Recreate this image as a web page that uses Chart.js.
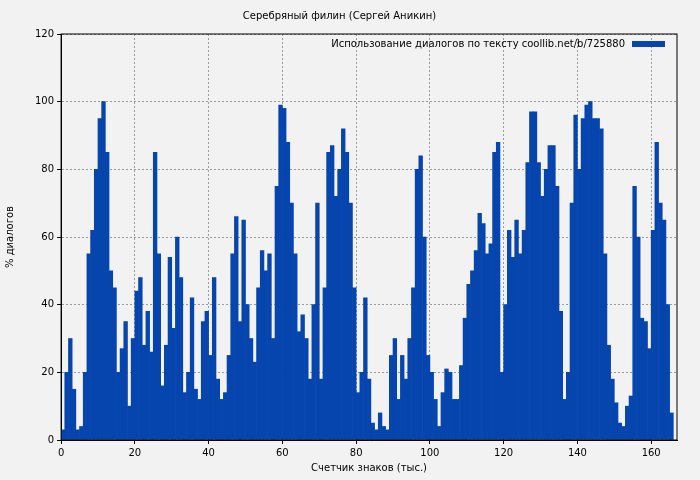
<!DOCTYPE html>
<html>
<head>
<meta charset="utf-8">
<script src="https://cdn.jsdelivr.net/npm/chart.js@4"></script>
<style>
  body { margin: 0; background: #f2f2f2; }
  #wrap { width: 700px; height: 480px; }
</style>
</head>
<body>
<div id="wrap"><canvas id="myChart"></canvas></div>
<script>
var chartTitle = 'Серебряный филин (Сергей Аникин)';
var seriesLabel = 'Использование диалогов по тексту coollib.net/b/725880';
// % of dialogue per thousand characters, bar i covers [i, i+1)
var dialogPct = [3,20,30,15,3,4,20,55,62,80,95,100,85,50,45,20,27,35,10,30,
  44,48,28,38,26,85,55,16,28,54,33,60,48,14,20,42,15,12,35,38,
  25,48,18,12,14,25,55,66,35,65,40,30,23,45,56,50,55,30,75,99,
  98,88,70,55,32,37,30,18,40,70,18,45,85,87,72,80,92,85,70,45,
  14,20,42,18,5,3,8,4,3,25,30,12,25,18,30,45,80,84,60,25,
  20,12,4,14,21,20,12,12,22,36,46,50,56,67,64,55,58,85,88,20,
  40,62,54,65,55,62,82,97,97,82,72,80,87,87,75,38,12,20,70,96,
  80,95,99,100,95,95,92,55,28,18,11,5,4,10,13,75,60,36,35,27,
  62,88,70,65,40,8];
var xTicks = [0, 20, 40, 60, 80, 100, 120, 140, 160];
var yTicks = [0, 20, 40, 60, 80, 100, 120];

var points = dialogPct.map(function(v, i) { return {x: i + 0.5, y: v}; });
var font = {family: 'DejaVu Sans', size: 10};

// legend drawn inside the plot, top right
var innerLegend = {
  id: 'innerLegend',
  afterDraw: function(chart) {
    var c = chart.ctx, a = chart.chartArea;
    c.save();
    c.font = '10px DejaVu Sans';
    c.fillStyle = '#000';
    c.textAlign = 'right';
    c.textBaseline = 'middle';
    c.fillText(seriesLabel, a.right - 52, a.top + 10);
    c.fillStyle = '#0645ad';
    c.fillRect(a.right - 45, a.top + 7, 33, 6);
    c.restore();
  }
};

var ctx = document.getElementById('myChart').getContext('2d');
var myChart = new Chart(ctx, {
  type: 'bar',
  data: {
    datasets: [{
      label: seriesLabel,
      data: points,
      backgroundColor: '#0645ad',
      borderWidth: 0,
      barPercentage: 1.0,
      categoryPercentage: 1.0
    }]
  },
  options: {
    responsive: true,
    maintainAspectRatio: false,
    animation: false,
    layout: {padding: {left: 2, right: 23, top: 0, bottom: 2}},
    scales: {
      x: {
        type: 'linear', min: 0, max: 167, offset: false,
        afterBuildTicks: function(s) { s.ticks = xTicks.map(function(v) { return {value: v}; }); },
        grid: {color: '#9a9a9a', tickColor: '#000', tickLength: 4, offset: false},
        border: {display: true, color: '#000', width: 1, dash: [2, 2]},
        ticks: {color: '#000', font: font, maxRotation: 0},
        title: {display: true, text: 'Счетчик знаков (тыс.)', color: '#000', font: font, padding: {top: 0}}
      },
      y: {
        min: 0, max: 120,
        afterBuildTicks: function(s) { s.ticks = yTicks.map(function(v) { return {value: v}; }); },
        grid: {color: '#9a9a9a', tickColor: '#000', tickLength: 4},
        border: {display: true, color: '#000', width: 1, dash: [2, 2]},
        ticks: {color: '#000', font: font, padding: 3},
        title: {display: true, text: '% диалогов', color: '#000', font: font, padding: {top: 2, bottom: 16}}
      }
    },
    plugins: {
      legend: {display: false},
      tooltip: {enabled: false},
      title: {display: true, text: chartTitle, color: '#000', font: {family: 'DejaVu Sans', size: 10, weight: 'normal'}, padding: {top: 10, bottom: 12}}
    }
  },
  plugins: [innerLegend, {
    id: 'frame',
    afterDraw: function(chart) {
      var c = chart.ctx, a = chart.chartArea;
      c.save(); c.strokeStyle = '#000'; c.lineWidth = 1;
      c.strokeRect(a.left, a.top, a.right - a.left, a.bottom - a.top);
      c.restore();
    }
  }]
});
</script>
</body>
</html>
